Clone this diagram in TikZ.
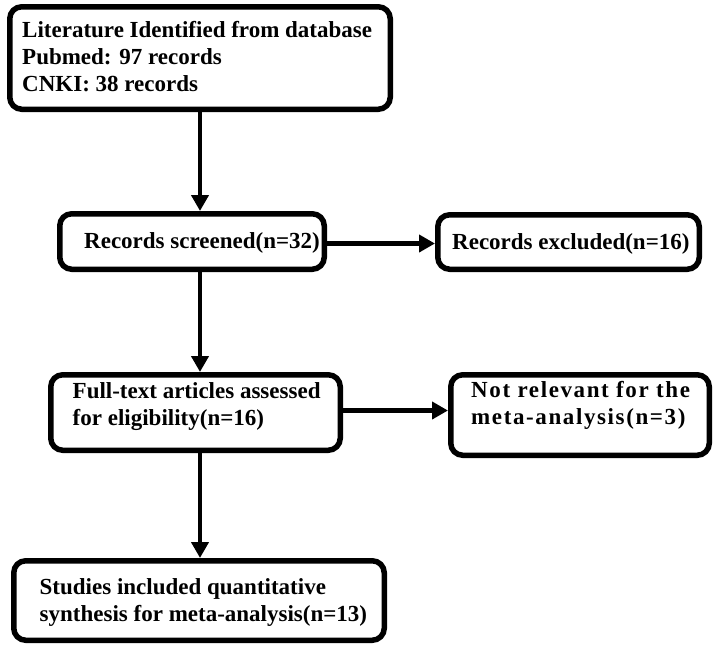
\documentclass[tikz,border=0pt]{standalone}
\usepackage{fontspec}
\setmainfont{Liberation Serif}
\usetikzlibrary{arrows.meta}
\begin{document}
\begin{tikzpicture}[x=1pt,y=-1pt,
  box/.style={draw=black, line width=5.5pt, rounded corners=12pt, inner sep=0pt, fill=white},
  txt/.style={inner sep=0pt, align=left, font=\fontsize{23}{27}\selectfont\bfseries, anchor=base west, text=black},
  arr/.style={draw=black, line width=4.5pt, -{Triangle[length=16pt,width=17pt]}}]
\useasboundingbox (0,0) rectangle (720,649);
% boxes
\node[box, minimum width=380.5pt, minimum height=102.5pt] (b1) at (200,58) {};
\node[box, minimum width=264.5pt, minimum height=55.5pt] (b2) at (192,241.5) {};
\node[box, minimum width=261.5pt, minimum height=54.5pt] (b3) at (568.5,242) {};
\node[box, minimum width=289.5pt, minimum height=75.5pt] (b4) at (195.5,412.5) {};
\node[box, minimum width=258.5pt, minimum height=80.5pt] (b5) at (580,415) {};
\node[box, minimum width=370.5pt, minimum height=79.5pt] (b6) at (199,600.5) {};
% texts (base anchor = baseline of the last line)
\node[txt] (t1) at (22,91) {Literature Identified from database\\Pubmed: 97 records\\CNKI: 38 records};
\node[txt] (t2) at (84,248) {Records screened(n=32)};
\node[txt] (t3) at (452,249) {Records excluded(n=16)};
\node[txt] (t4) at (72.5,425) {Full-text articles assessed\\for eligibility(n=16)};
\node[txt, font=\fontsize{23}{27}\selectfont\bfseries\addfontfeature{LetterSpace=7}] (t5) at (471,424) {Not relevant for the\\meta-analysis(n=3)};
\node[txt] (t6) at (39.5,621) {Studies included quantitative\\synthesis for meta-analysis(n=13)};
% connectors
\draw[arr] (b1.south) -- (b1.south |- b2.north);
\draw[arr] ([yshift=-2pt]b2.east) -- ([yshift=-2pt]b2.east -| b3.west);
\draw[arr] (b1.south |- b2.south) -- (b1.south |- b4.north);
\draw[arr] ([yshift=2pt]b4.east) -- ([yshift=2pt]b4.east -| b5.west);
\draw[arr] (b1.south |- b4.south) -- (b1.south |- b6.north);
\end{tikzpicture}
\end{document}
